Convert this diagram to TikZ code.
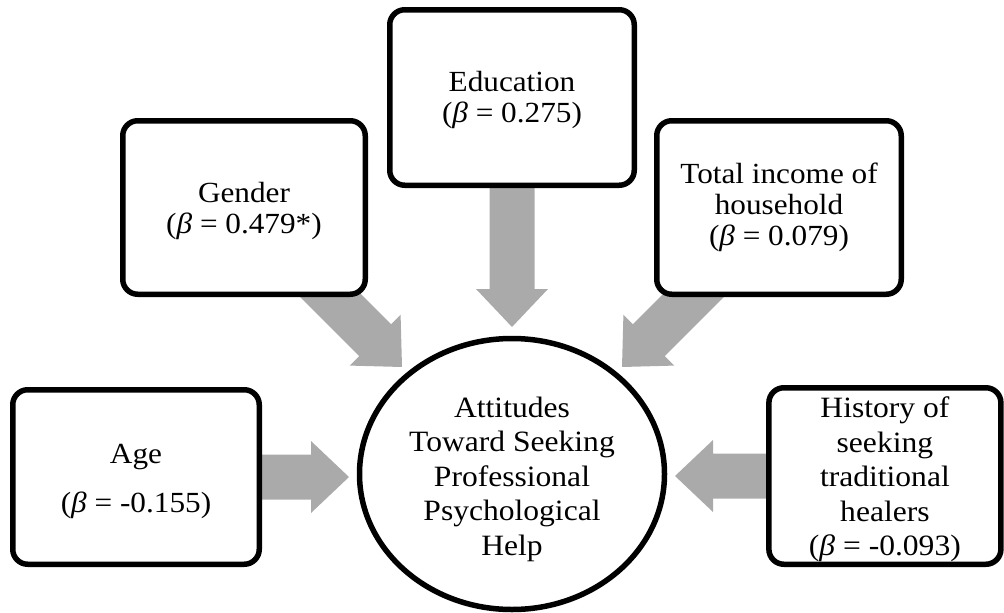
\documentclass[tikz,border=0pt]{standalone}
\usepackage{fontspec}
\setmainfont[FakeStretch=1.07]{Liberation Serif}
\usetikzlibrary{calc,shapes.geometric}
\definecolor{arrowgray}{RGB}{170,170,170}
\pgfdeclarelayer{background}
\pgfsetlayers{background,main}
\newcommand{\bsym}{\textit{β}}
\newcommand{\blockarrow}[2]{%
  \coordinate (hb) at ($(#2)!38pt!(#1)$);
  \fill[arrowgray] ($(#1)!22.5pt!90:(#2)$) -- ($(hb)!22.5pt!90:(#2)$) -- ($(hb)!36pt!90:(#2)$) -- (#2)
    -- ($(hb)!36pt!-90:(#2)$) -- ($(hb)!22.5pt!-90:(#2)$) -- ($(#1)!22.5pt!-90:(#2)$) -- cycle;
}
\begin{document}
\begin{tikzpicture}[x=1pt,y=-1pt,
  box/.style={draw,line width=5.5pt,rounded corners=15pt,fill=white,inner sep=0pt},
  txt/.style={align=center,inner sep=0pt,font=\fontsize{29.2}{31}\selectfont},
  bigtxt/.style={align=center,inner sep=0pt,font=\fontsize{29.5}{34.5}\selectfont}]
\useasboundingbox (0,0) rectangle (1004,613);

\node[box,minimum width=244.5pt,minimum height=175.5pt,
  label={[txt,yshift=-2.6pt]center:{Education\\(\bsym{} = 0.275)}}] (edu) at (512,97.5) {};
\node[box,minimum width=242.5pt,minimum height=173.5pt,
  label={[txt,yshift=-3.6pt]center:{Gender\\(\bsym{} = 0.479*)}}] (gen) at (244,207.5) {};
\node[box,minimum width=244.5pt,minimum height=173.5pt,
  label={[txt]center:{Total income of\\household\\(\bsym{} = 0.079)}}] (inc) at (779,207.5) {};
\node[box,minimum width=246.5pt,minimum height=174.5pt,
  label={[txt,yshift=-4pt]center:{Age\\[18pt](\bsym{} = -0.155)}}] (age) at (136,477) {};
\node[box,minimum width=232pt,minimum height=176.5pt,
  label={[bigtxt,yshift=-3.3pt]center:{History of\\seeking\\traditional\\healers\\(\bsym{} = -0.093)}}] (his) at (884.9,476) {};

\node[draw,ellipse,line width=5.5pt,minimum width=305pt,minimum height=271pt,inner sep=0pt,fill=white,
  label={[bigtxt,yshift=-5.3pt]center:{Attitudes\\Toward Seeking\\Professional\\Psychological\\Help}}] (att) at (512,474) {};

\coordinate (eduTip) at (512,327);
\coordinate (genStart) at (302,267);
\coordinate (genTip) at (402,367);
\coordinate (incStart) at (722,267);
\coordinate (incTip) at (622,367);
\coordinate (ageTip) at (349,477);
\coordinate (hisTip) at (675,476);

\begin{pgfonlayer}{background}
  \blockarrow{edu.south}{eduTip}
  \blockarrow{genStart}{genTip}
  \blockarrow{incStart}{incTip}
  \blockarrow{age.east}{ageTip}
  \blockarrow{his.west}{hisTip}
\end{pgfonlayer}
\end{tikzpicture}
\end{document}
